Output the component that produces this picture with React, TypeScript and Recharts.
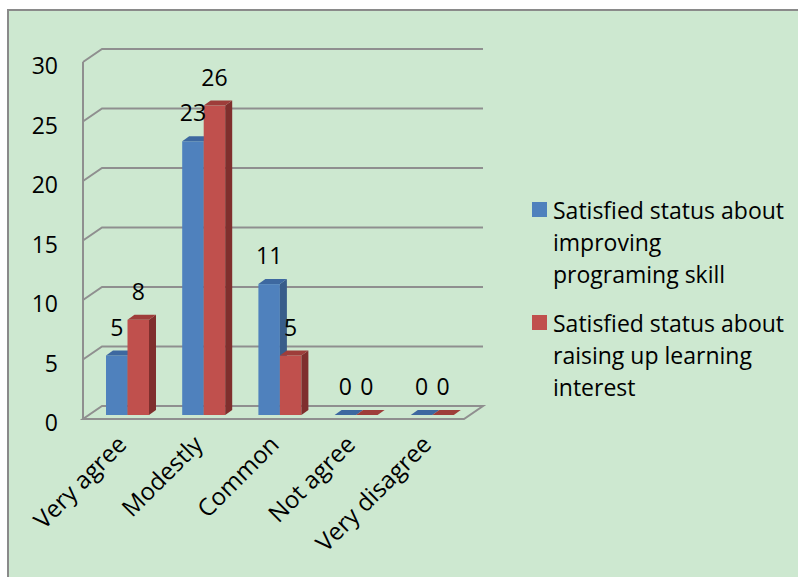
import React from 'react';
import { BarChart, Bar, XAxis, YAxis, CartesianGrid, Legend, LabelList } from 'recharts';

const categories = ['Very agree', 'Modestly', 'Common', 'Not agree', 'Very disagree'];
const skillValues = [5, 23, 11, 0, 0];
const interestValues = [8, 26, 5, 0, 0];
const yTicks = [0, 5, 10, 15, 20, 25, 30];
const seriesNames = [
  'Satisfied status about\nimproving\nprograming skill',
  'Satisfied status about\nraising up learning\ninterest',
];

const data = categories.map((c, i) => ({ name: c, skill: skillValues[i], interest: interestValues[i] }));

const FONT = '"Open Sans", sans-serif';
const FS = 23;
const FS_X = 24;
const DX = 7;
const DY = 5;
// plane offsets relative to the bar (middle) plane
const FRONT = { x: -6, y: 4 };
const BACK = { x: 13, y: -9 };
const GRID = '#8f8f8f';

const makeShape = (front: string, top: string, side: string) => (props: any) => {
  const { x, y, width, height } = props;
  if (x == null || y == null) return null;
  const h = Math.max(0, height || 0);
  const topPts = `${x},${y} ${x + DX},${y - DY} ${x + width + DX},${y - DY} ${x + width},${y}`;
  const sidePts = `${x + width},${y} ${x + width + DX},${y - DY} ${x + width + DX},${y + h - DY} ${x + width},${y + h}`;
  return (
    <g>
      {h > 0 && <rect x={x} y={y} width={width} height={h} fill={front} />}
      {h > 0 && <polygon points={sidePts} fill={side} />}
      <polygon points={topPts} fill={top} />
    </g>
  );
};

const gridLine = (props: any) => {
  const { x1, y1, x2, y, height, index } = props;
  const isFloor = Math.abs(y1 - (y + height)) < 1;
  if (isFloor) {
    const d = [
      `M${x1 + FRONT.x},${y1 + FRONT.y} L${x2 + FRONT.x},${y1 + FRONT.y} L${x2 + BACK.x},${y1 + BACK.y} L${x1 + BACK.x},${y1 + BACK.y} Z`,
      `M${x1 + FRONT.x},${y + FRONT.y} L${x1 + FRONT.x},${y1 + FRONT.y}`,
    ].join(' ');
    return <path key={`g-${index}`} d={d} stroke={GRID} strokeWidth={2} fill="none" />;
  }
  const d = `M${x1 + FRONT.x},${y1 + FRONT.y} L${x1 + BACK.x},${y1 + BACK.y} L${x2 + BACK.x},${y1 + BACK.y}`;
  return <path key={`g-${index}`} d={d} stroke={GRID} strokeWidth={2} fill="none" />;
};

const YTick = (props: any) => {
  const { y, payload } = props;
  return (
    <text x={58} y={y + 7} textAnchor="end" dominantBaseline="central" fontFamily={FONT} fontSize={FS} fill="#000">
      {payload.value}
    </text>
  );
};

const XTick = (props: any) => {
  const { x, y, payload } = props;
  const ax = x + 1;
  const ay = y + 31;
  return (
    <text x={ax} y={ay} textAnchor="end" transform={`rotate(-45 ${ax} ${ay})`} fontFamily={FONT} fontSize={FS_X} fill="#000">
      {payload.value}
    </text>
  );
};

const LegendContent = (props: any) => {
  const { payload } = props;
  return (
    <div style={{ fontFamily: FONT, fontSize: FS, lineHeight: '32px', color: '#000' }}>
      {(payload || []).map((p: any, i: number) => (
        <div key={i} style={{ display: 'flex', alignItems: 'flex-start', marginBottom: 17 }}>
          <div style={{ width: 15, height: 15, background: p.color, marginTop: 8, marginRight: 6, flex: 'none' }} />
          <div style={{ whiteSpace: 'pre-line' }}>{p.value}</div>
        </div>
      ))}
    </div>
  );
};

export default function App() {
  return (
    <div style={{ position: 'absolute', left: 0, top: 0, width: 798, height: 577, overflow: 'hidden', background: '#fff' }}>
      <div style={{ position: 'absolute', left: 7, top: 9, width: 820, height: 600, background: '#CDE8D0', border: '2px solid #8a8a8a', boxSizing: 'border-box' }} />
      <div style={{ position: 'absolute', left: 0, top: 0 }}>
        <BarChart
          width={798}
          height={577}
          data={data}
          margin={{ top: 58, right: 328, bottom: 102, left: 29 }}
          barGap={0}
          barSize={21.5}
        >
          <CartesianGrid horizontal={gridLine} vertical={false} />
          <XAxis dataKey="name" height={60} tickLine={false} axisLine={false} tickSize={0} tickMargin={0} interval={0} tick={<XTick />} />
          <YAxis width={60} domain={[0, 30]} ticks={yTicks} tickLine={false} axisLine={false} tickSize={0} tickMargin={0} interval={0} tick={<YTick />} />
          <Legend
            layout="horizontal"
            verticalAlign="middle"
            align="center"
            content={<LegendContent />}
            wrapperStyle={{ position: 'absolute', left: 532, top: 194, width: 264, height: 240 }}
          />
          <Bar dataKey="skill" name={seriesNames[0]} fill="#4F81BD" isAnimationActive={false} shape={makeShape('#4F81BD', '#3D68A0', '#385D8A')}>
            <LabelList dataKey="skill" position="top" offset={20} fontFamily={FONT} fontSize={FS} fill="#000" />
          </Bar>
          <Bar dataKey="interest" name={seriesNames[1]} fill="#C0504D" isAnimationActive={false} shape={makeShape('#C0504D', '#9E3D3A', '#7F2F2D')}>
            <LabelList dataKey="interest" position="top" offset={20} fontFamily={FONT} fontSize={FS} fill="#000" />
          </Bar>
        </BarChart>
      </div>
    </div>
  );
}
